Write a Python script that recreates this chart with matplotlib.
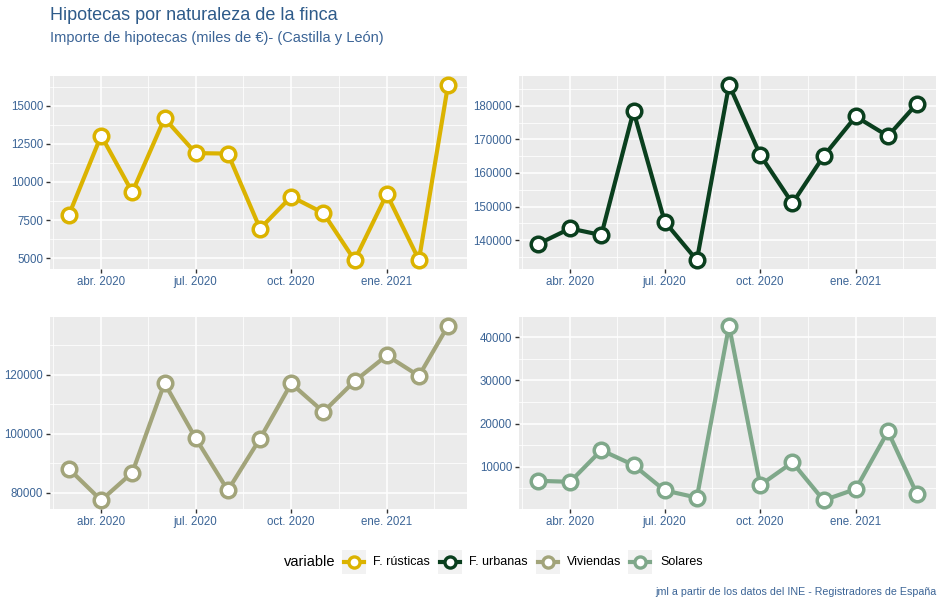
import numpy as np
import pandas as pd
import matplotlib
matplotlib.use("Agg")
import matplotlib.pyplot as plt
from matplotlib.lines import Line2D
from matplotlib.patches import Rectangle

plt.rcParams['font.family'] = ['Liberation Sans', 'DejaVu Sans']

# Datos (miles de euros), marzo 2020 - marzo 2021
fechas = pd.date_range("2020-03-01", "2021-03-01", freq="MS")
rusticas = [7850, 13040, 9330, 14170, 11890, 11860, 6940, 9040, 7960, 4870, 9200, 4890, 16370]
urbanas = [138800, 143450, 141480, 178400, 145500, 133980, 186300, 165380, 150960, 165000, 176840, 171000, 180700]
viviendas = [88070, 77420, 86830, 117200, 98490, 80780, 98380, 117090, 107450, 117870, 126610, 119660, 136700]
solares = [6720, 6490, 13820, 10380, 4500, 2820, 42670, 5720, 10990, 2210, 4810, 18170, 3590]

nombres = ["F. rústicas", "F. urbanas", "Viviendas", "Solares"]
colores = ["#DBB300", "#0A3F1E", "#A2A47A", "#7FA88A"]
series = [rusticas, urbanas, viviendas, solares]

yticks = [
    [5000, 7500, 10000, 12500, 15000],
    [140000, 150000, 160000, 170000, 180000],
    [80000, 100000, 120000],
    [10000, 20000, 30000, 40000],
]

xtick_fechas = pd.to_datetime(["2020-04-01", "2020-07-01", "2020-10-01", "2021-01-01"])
xtick_labels = ["abr. 2020", "jul. 2020", "oct. 2020", "ene. 2021"]
xminor_fechas = pd.to_datetime(["2020-02-15", "2020-05-16", "2020-08-16", "2020-11-16", "2021-02-15"])

azul = "#3B6496"

fig = plt.figure(figsize=(9.44, 6.07), dpi=100)
W, H = 944, 607

# posiciones de paneles en pixeles (izq, arriba, der, abajo)
paneles = [(50, 76, 467, 269), (519, 76, 936, 269), (50, 317, 467, 509), (519, 317, 936, 509)]

for i, (l, t, r, b) in enumerate(paneles):
    ax = fig.add_axes([l / W, 1 - b / H, (r - l) / W, (b - t) / H])
    ax.set_facecolor("#EBEBEB")
    for s in ax.spines.values():
        s.set_visible(False)
    vals = np.array(series[i])
    ax.plot(fechas, vals, color=colores[i], lw=3.0, marker="o", ms=10.5,
            mfc="white", mec=colores[i], mew=2.5, zorder=3, clip_on=False)
    yt = yticks[i]
    ax.set_yticks(yt)
    ax.set_yticklabels([str(v) for v in yt])
    paso = yt[1] - yt[0]
    ymin = [yt[0] - paso / 2] + [v + paso / 2 for v in yt]
    ax.set_yticks(ymin, minor=True)
    ax.set_xticks(xtick_fechas)
    ax.set_xticklabels(xtick_labels)
    ax.set_xticks(xminor_fechas, minor=True)
    # limites con expansion 5% (despues de los ticks)
    d0, d1 = fechas[0], fechas[-1]
    dx = (d1 - d0) * 0.05
    ax.set_xlim(d0 - dx, d1 + dx)
    rng = vals.max() - vals.min()
    ax.set_ylim(vals.min() - 0.05 * rng, vals.max() + 0.05 * rng)
    ax.grid(True, which="major", color="white", lw=1.1)
    ax.grid(True, which="minor", color="white", lw=0.55)
    ax.set_axisbelow(True)
    ax.tick_params(which="major", length=3, width=1, color="#333333",
                   labelsize=8.3, labelcolor=azul, pad=2)
    ax.tick_params(which="minor", length=0)

# titulos
fig.text(50 / W, 1 - 16 / H, "Hipotecas por naturaleza de la finca", fontsize=13,
         color="#2E5B8A", va="center", ha="left")
fig.text(50 / W, 1 - 38 / H, "Importe de hipotecas (miles de €)- (Castilla y León)", fontsize=10.5,
         color=azul, va="center", ha="left")

# leyenda manual
ly = 562
fig.text(284 / W, 1 - ly / H, "variable", fontsize=10.5, color="black", va="center", ha="left")
keys_x = [342, 438, 536, 628]
labels_x = [373, 469, 567, 660]
for k in range(4):
    x0 = keys_x[k]
    fig.patches.append(Rectangle((x0 / W, 1 - 574 / H), 24 / W, 24 / H,
                                 transform=fig.transFigure, facecolor="#F2F2F2",
                                 edgecolor="none"))
    fig.lines.append(Line2D([(x0 + 2) / W, (x0 + 22) / W], [1 - ly / H, 1 - ly / H],
                            transform=fig.transFigure, color=colores[k], lw=3.0))
    fig.lines.append(Line2D([(x0 + 12) / W], [1 - ly / H], transform=fig.transFigure,
                            marker="o", ms=8, mfc="white", mec=colores[k], mew=2.4,
                            color=colores[k]))
    fig.text(labels_x[k] / W, 1 - ly / H, nombres[k], fontsize=9, color="black",
             va="center", ha="left")

fig.text(936 / W, 1 - 592 / H, "jml a partir de los datos del INE - Registradores de España",
         fontsize=7.7, color=azul, va="center", ha="right")

fig.savefig("out.png", dpi=100, facecolor="white")
